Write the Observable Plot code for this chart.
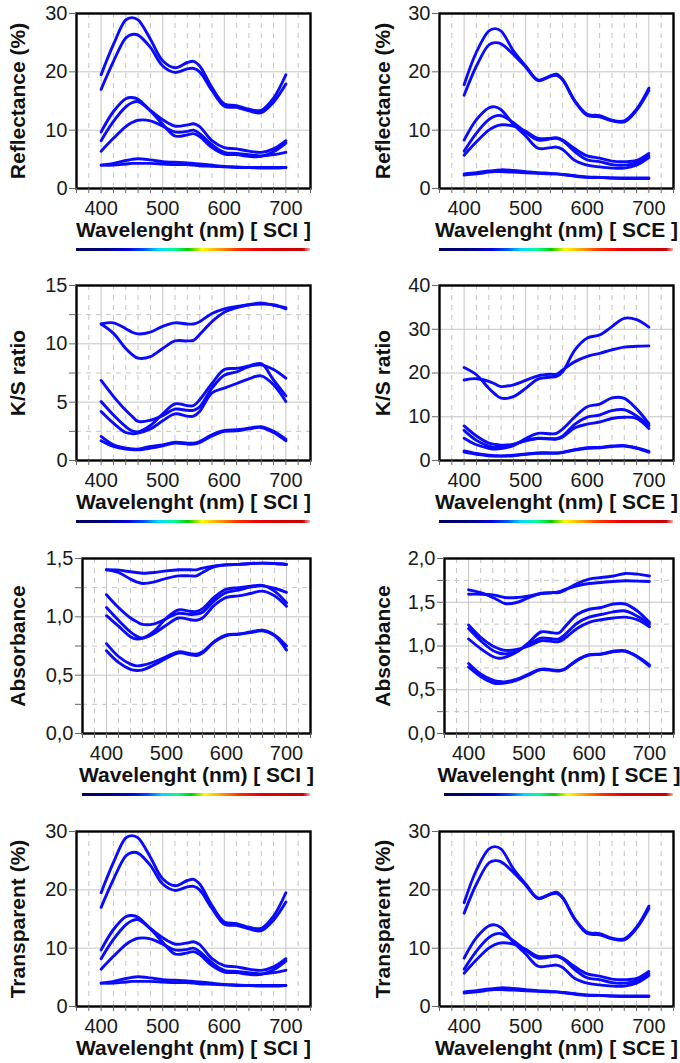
<!DOCTYPE html>
<html>
<head>
<meta charset="utf-8">
<script src="https://cdn.jsdelivr.net/npm/d3@7"></script>
<script src="https://cdn.jsdelivr.net/npm/@observablehq/plot@0.6"></script>
<style>
  html, body { margin: 0; padding: 0; background: #fff; }
  #wrap { position: relative; width: 680px; height: 1063px; overflow: hidden; font-family: "Liberation Sans", Arial, sans-serif; }
  .panel { position: absolute; }
  .spectrum { position: absolute; height: 3px;
    background: linear-gradient(to right, #00005e 0%, #000080 12%, #0000e0 22%, #0050ff 29%, #00d8ff 35%, #00ff90 42%, #00d000 48%, #ffff00 54%, #ffa000 61%, #ff3000 69%, #e80000 78%, #c80000 97%, #ffb0b0 100%); }
</style>
</head>
<body>
<div id="wrap"></div>
<script>
// ---------- data ----------
const wavelengths = [400, 420, 440, 450, 460, 480, 500, 520, 540, 550, 560, 580, 600, 620, 640, 660, 680, 700];

const reflectanceSCI = [
  [19.5, 24.7, 28.9, 29.3, 28.9, 25.6, 21.9, 20.7, 21.6, 21.8, 21.0, 17.3, 14.5, 14.2, 13.6, 13.4, 15.5, 19.5],
  [17.0, 21.8, 25.8, 26.4, 26.3, 24.2, 21.0, 19.9, 20.5, 20.6, 20.0, 16.8, 14.1, 13.9, 13.3, 13.0, 14.8, 17.9],
  [9.7, 13.2, 15.4, 15.6, 15.3, 13.4, 11.8, 10.7, 10.9, 11.1, 10.6, 8.2, 7.0, 6.8, 6.4, 6.2, 6.8, 8.2],
  [8.2, 11.5, 14.0, 14.7, 14.9, 13.3, 11.0, 9.0, 9.2, 9.4, 8.9, 7.0, 5.9, 5.8, 5.5, 5.5, 6.3, 7.8],
  [6.4, 8.6, 10.6, 11.3, 11.7, 11.6, 10.7, 9.7, 9.8, 10.0, 9.4, 7.5, 6.2, 6.0, 5.8, 5.6, 5.8, 6.2],
  [4.0, 4.3, 4.8, 5.0, 5.1, 4.9, 4.6, 4.5, 4.4, 4.3, 4.2, 4.0, 3.8, 3.7, 3.6, 3.6, 3.6, 3.6],
  [4.0, 4.0, 4.2, 4.3, 4.3, 4.3, 4.2, 4.1, 4.1, 4.0, 3.9, 3.8, 3.7, 3.6, 3.6, 3.5, 3.5, 3.6]
];
const reflectanceSCE = [
  [17.8, 23.4, 27.0, 27.4, 27.0, 23.6, 21.0, 18.6, 19.3, 19.6, 18.7, 15.0, 12.7, 12.5, 11.7, 11.6, 13.6, 17.2],
  [16.0, 21.0, 24.6, 25.0, 24.8, 23.0, 20.8, 18.5, 19.2, 19.4, 18.6, 14.9, 12.5, 12.3, 11.6, 11.4, 13.4, 16.8],
  [8.3, 11.8, 13.8, 14.0, 13.5, 11.0, 9.0, 6.9, 7.0, 7.1, 6.7, 4.8, 4.0, 3.7, 3.5, 3.5, 4.0, 5.3],
  [6.4, 9.5, 11.8, 12.4, 12.5, 11.3, 9.6, 8.3, 8.5, 8.6, 8.2, 6.3, 4.9, 4.6, 4.1, 4.0, 4.4, 5.6],
  [5.7, 8.0, 10.0, 10.6, 10.9, 10.7, 9.8, 8.6, 8.6, 8.7, 8.3, 6.8, 5.6, 5.2, 4.7, 4.6, 4.8, 6.0],
  [2.5, 2.7, 3.0, 3.1, 3.2, 3.1, 2.9, 2.7, 2.6, 2.5, 2.4, 2.2, 2.0, 1.9, 1.8, 1.8, 1.8, 1.8],
  [2.3, 2.5, 2.8, 2.9, 2.9, 2.8, 2.7, 2.6, 2.5, 2.5, 2.4, 2.1, 1.9, 1.9, 1.8, 1.7, 1.7, 1.7]
];
const ksSCI = [
  [11.7, 11.8, 11.3, 11.0, 10.85, 11.0, 11.5, 11.8, 11.7, 11.7, 11.9, 12.6, 13.0, 13.2, 13.35, 13.4, 13.35, 13.0],
  [11.7, 10.9, 9.6, 9.1, 8.77, 8.9, 9.6, 10.25, 10.25, 10.3, 10.8, 11.9, 12.7, 13.1, 13.35, 13.5, 13.3, 13.1],
  [6.86, 5.5, 4.3, 3.8, 3.35, 3.45, 3.85, 4.4, 4.3, 4.3, 4.6, 6.2, 7.3, 7.6, 8.05, 8.2, 7.8, 7.06],
  [5.06, 3.9, 2.9, 2.55, 2.45, 3.0, 4.0, 4.86, 4.7, 4.7, 5.2, 6.6, 7.8, 7.9, 8.1, 8.3, 6.9, 5.54],
  [4.2, 3.2, 2.4, 2.3, 2.35, 2.7, 3.4, 4.0, 3.8, 3.8, 4.2, 5.8, 6.2, 6.6, 7.0, 7.26, 6.5, 5.06],
  [2.06, 1.34, 1.06, 1.0, 0.97, 1.2, 1.34, 1.57, 1.49, 1.49, 1.63, 2.2, 2.57, 2.63, 2.77, 2.9, 2.5, 1.83],
  [1.69, 1.2, 0.97, 0.93, 0.91, 1.06, 1.26, 1.49, 1.4, 1.4, 1.54, 2.1, 2.49, 2.54, 2.71, 2.83, 2.4, 1.69]
];
const ksSCE = [
  [21.26, 19.6, 16.5, 15.2, 14.25, 14.6, 16.5, 18.6, 19.05, 19.2, 20.3, 25.3, 28.0, 28.7, 30.6, 32.5, 32.2, 30.5],
  [18.4, 18.7, 18.1, 17.5, 16.9, 17.3, 18.3, 19.35, 19.7, 19.7, 20.7, 22.6, 23.8, 24.5, 25.3, 25.9, 26.1, 26.2],
  [7.9, 5.6, 4.0, 3.7, 3.5, 3.7, 4.5, 5.0, 4.9, 4.9, 5.4, 7.5, 8.3, 8.8, 9.6, 9.9, 9.6, 7.3],
  [6.9, 4.6, 3.3, 3.0, 3.1, 3.7, 4.6, 5.1, 5.0, 5.0, 5.6, 8.3, 9.9, 10.4, 11.4, 11.6, 10.2, 8.0],
  [5.1, 3.6, 2.8, 2.6, 2.7, 3.4, 5.0, 6.2, 6.1, 6.2, 7.2, 10.0, 12.3, 12.9, 14.3, 14.2, 11.8, 8.4],
  [2.2, 1.6, 1.2, 1.1, 1.05, 1.2, 1.5, 1.75, 1.75, 1.75, 1.9, 2.5, 2.9, 3.0, 3.3, 3.4, 2.9, 2.1],
  [1.9, 1.4, 1.1, 1.0, 1.0, 1.1, 1.4, 1.65, 1.65, 1.65, 1.8, 2.4, 2.8, 2.9, 3.2, 3.3, 2.8, 1.9]
];
const absorbanceSCI = [
  [1.403, 1.40, 1.386, 1.38, 1.374, 1.38, 1.394, 1.403, 1.403, 1.403, 1.417, 1.437, 1.446, 1.45, 1.457, 1.46, 1.457, 1.449],
  [1.403, 1.38, 1.323, 1.30, 1.286, 1.30, 1.33, 1.351, 1.351, 1.351, 1.38, 1.43, 1.446, 1.45, 1.457, 1.46, 1.457, 1.449],
  [1.19, 1.08, 0.99, 0.96, 0.935, 0.94, 0.985, 1.03, 1.02, 1.023, 1.04, 1.14, 1.209, 1.229, 1.255, 1.265, 1.245, 1.21],
  [1.08, 0.97, 0.87, 0.835, 0.82, 0.88, 0.99, 1.06, 1.046, 1.046, 1.07, 1.17, 1.237, 1.25, 1.262, 1.27, 1.22, 1.12],
  [1.01, 0.92, 0.83, 0.81, 0.815, 0.86, 0.93, 0.99, 0.975, 0.971, 0.99, 1.10, 1.166, 1.18, 1.2, 1.22, 1.18, 1.09],
  [0.77, 0.66, 0.595, 0.58, 0.585, 0.615, 0.66, 0.70, 0.685, 0.68, 0.70, 0.79, 0.845, 0.853, 0.87, 0.885, 0.845, 0.75],
  [0.71, 0.61, 0.55, 0.54, 0.545, 0.59, 0.645, 0.69, 0.675, 0.668, 0.69, 0.785, 0.84, 0.85, 0.865, 0.88, 0.84, 0.715]
];
const absorbanceSCE = [
  [1.642, 1.61, 1.554, 1.52, 1.486, 1.497, 1.554, 1.6, 1.61, 1.61, 1.638, 1.714, 1.764, 1.783, 1.80, 1.829, 1.821, 1.80],
  [1.592, 1.592, 1.585, 1.57, 1.554, 1.554, 1.573, 1.6, 1.61, 1.62, 1.646, 1.688, 1.714, 1.726, 1.737, 1.745, 1.741, 1.737],
  [1.24, 1.10, 1.00, 0.97, 0.95, 0.96, 1.00, 1.06, 1.05, 1.05, 1.09, 1.20, 1.27, 1.30, 1.32, 1.33, 1.30, 1.22],
  [1.20, 1.06, 0.95, 0.92, 0.91, 0.94, 1.02, 1.09, 1.08, 1.08, 1.13, 1.26, 1.33, 1.36, 1.39, 1.40, 1.34, 1.25],
  [1.08, 0.97, 0.88, 0.86, 0.87, 0.93, 1.04, 1.16, 1.15, 1.15, 1.22, 1.36, 1.42, 1.44, 1.48, 1.48, 1.40, 1.27],
  [0.80, 0.68, 0.61, 0.595, 0.59, 0.62, 0.68, 0.735, 0.725, 0.72, 0.74, 0.84, 0.90, 0.91, 0.94, 0.945, 0.88, 0.785],
  [0.76, 0.65, 0.58, 0.57, 0.575, 0.61, 0.67, 0.73, 0.72, 0.715, 0.735, 0.835, 0.895, 0.905, 0.935, 0.94, 0.875, 0.77]
];
const transparentSCI = reflectanceSCI;
const transparentSCE = reflectanceSCE;

const xTickLabels = [400, 500, 600, 700];
const xMinorTicks = d3.range(360, 741, 20);
const yLabels = ["Reflectance (%)", "K/S ratio", "Absorbance", "Transparent (%)"];
const modes = ["SCI", "SCE"];

// ---------- layout ----------
const FONT = "'Liberation Sans', Arial, sans-serif";
const LINE = "#0a0aff";
const frameTops = [13, 285, 558, 831];
const frameH = 175;
const comma = d => d.toFixed(1).replace(".", ",");

const panels = [
  {row: 0, col: 0, series: reflectanceSCI, domain: [0, 30], ticks: [0, 10, 20, 30], minor: [], fmt: d => d},
  {row: 0, col: 1, series: reflectanceSCE, domain: [0, 30], ticks: [0, 10, 20, 30], minor: [], fmt: d => d},
  {row: 1, col: 0, series: ksSCI, domain: [0, 15], ticks: [0, 5, 10, 15], minor: [2.5, 7.5, 12.5], fmt: d => d},
  {row: 1, col: 1, series: ksSCE, domain: [0, 40], ticks: [0, 10, 20, 30, 40], minor: [], fmt: d => d},
  {row: 2, col: 0, series: absorbanceSCI, domain: [0, 1.5], ticks: [0, 0.5, 1, 1.5], minor: [0.25, 0.75, 1.25], fmt: comma},
  {row: 2, col: 1, series: absorbanceSCE, domain: [0, 2], ticks: [0, 0.5, 1, 1.5, 2], minor: [0.25, 0.75, 1.25, 1.75], fmt: comma},
  {row: 3, col: 0, series: transparentSCI, domain: [0, 30], ticks: [0, 10, 20, 30], minor: [], fmt: d => d},
  {row: 3, col: 1, series: transparentSCE, domain: [0, 30], ticks: [0, 10, 20, 30], minor: [], fmt: d => d}
];

const wrap = document.getElementById("wrap");

for (const p of panels) {
  const left = p.col === 0;
  const mL = left ? (p.row === 2 ? 82 : 76) : (p.row === 2 ? 104 : 99);
  const mR = left ? 30 : 7;
  const mT = 13, mB = 58;
  const labelX = left ? 17.5 : 42.5;
  const rows = p.series.flatMap((s, k) => s.map((v, j) => ({w: wavelengths[j], v, k})));

  const chart = Plot.plot({
    width: 340,
    height: mT + frameH + mB,
    marginLeft: mL, marginRight: mR, marginTop: mT, marginBottom: mB,
    style: {fontFamily: FONT, background: "white", overflow: "visible"},
    x: {domain: [360, 740]},
    y: {domain: p.domain},
    marks: [
      Plot.gridX(xMinorTicks.filter(d => !xTickLabels.includes(d)), {stroke: "#c4c4c4", strokeOpacity: 1, strokeDasharray: "5,5", strokeWidth: 1}),
      Plot.gridX(xTickLabels, {stroke: "#c4c4c4", strokeOpacity: 1, strokeWidth: 1}),
      Plot.gridY(p.minor, {stroke: "#c4c4c4", strokeOpacity: 1, strokeDasharray: "5,5", strokeWidth: 1}),
      Plot.gridY(p.ticks, {stroke: "#c4c4c4", strokeOpacity: 1, strokeWidth: 1}),
      Plot.line(rows, {x: "w", y: "v", z: "k", stroke: LINE, strokeWidth: 2.9, curve: "catmull-rom"}),
      Plot.frame({stroke: "#000", strokeWidth: 2.4}),
      Plot.axisX(xMinorTicks, {tickSize: 5, tickFormat: () => "", stroke: "#666", label: null}),
      Plot.axisX(xTickLabels, {tickSize: 0, tickPadding: 12, fontSize: 20, fill: "#1a1a1a", label: null}),
      Plot.axisY(p.ticks.concat(p.minor), {tickSize: 7, tickFormat: () => "", stroke: "#666", label: null}),
      Plot.axisY(p.ticks, {tickSize: 0, tickPadding: 9, fontSize: 20, fill: "#1a1a1a", tickFormat: p.fmt, label: null}),
      Plot.text([yLabels[p.row]], {frameAnchor: "left", rotate: -90, dx: labelX - mL, text: d => d, fontSize: 21, fontWeight: "bold", textAnchor: "middle", lineAnchor: "middle", fill: "#111"}),
      Plot.text([`Wavelenght (nm) [ ${modes[p.col]} ]`], {frameAnchor: "bottom", dy: 42, text: d => d, fontSize: 21, fontWeight: "bold", textAnchor: "middle", lineAnchor: "middle", fill: "#111"})
    ]
  });
  chart.classList.add("panel");
  chart.style.left = (p.col * 340) + "px";
  chart.style.top = (frameTops[p.row] - mT) + "px";
  wrap.appendChild(chart);

  if (p.row < 3) {
    const bar = document.createElement("div");
    bar.className = "spectrum";
    bar.style.left = (p.col * 340 + mL) + "px";
    bar.style.width = (340 - mL - mR) + "px";
    bar.style.top = (frameTops[p.row] + frameH + 60) + "px";
    wrap.appendChild(bar);
  }
}
</script>
</body>
</html>
